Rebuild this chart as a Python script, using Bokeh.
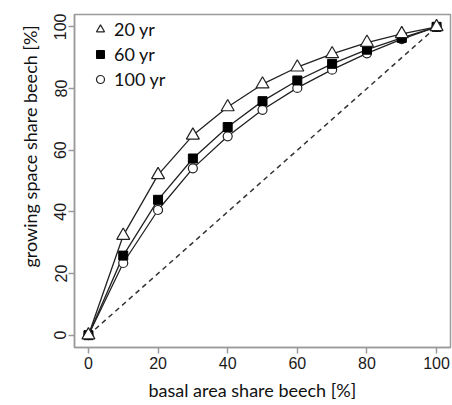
from bokeh.plotting import figure
from bokeh.models import Legend, LegendItem, Title
from bokeh.embed import file_html
from bokeh.resources import INLINE

x_share = [0, 10, 20, 30, 40, 50, 60, 70, 80, 90, 100]
y_20yr = [0, 32.3, 52.0, 64.8, 74.0, 81.4, 86.9, 91.2, 94.9, 97.7, 100]
y_60yr = [0, 25.8, 43.9, 57.3, 67.5, 75.9, 82.6, 88.0, 92.6, 96.4, 100]
y_100yr = [0, 23.4, 40.6, 54.1, 64.5, 73.1, 80.2, 86.1, 91.4, 96.0, 100]
diag = [0, 100]
ticks = [0, 20, 40, 60, 80, 100]
labels = ["20 yr", "60 yr", "100 yr"]
x_title = "basal area share beech [%]"
y_title = "growing space share beech [%]"

p = figure(width=452, height=405, output_backend="svg", toolbar_location=None,
           x_range=(-4, 104), y_range=(-4, 104),
           min_border_left=74, min_border_right=2, min_border_top=14, min_border_bottom=57)
p.grid.visible = False
p.background_fill_color = "white"
p.border_fill_color = "white"
p.outline_line_color = "#9a9a9a"
p.outline_line_width = 1.5

for ax in (p.xaxis[0], p.yaxis[0]):
    ax.ticker = ticks
    ax.axis_line_color = "#9a9a9a"
    ax.axis_line_width = 1.5
    ax.major_tick_line_color = "#9a9a9a"
    ax.major_tick_line_width = 1.5
    ax.major_tick_out = 6
    ax.major_tick_in = 0
    ax.minor_tick_line_color = None
    ax.major_label_text_font = "Liberation Sans"
    ax.major_label_text_font_size = "16px"
    ax.major_label_text_color = "#1a1a1a"

p.yaxis.major_label_orientation = "vertical"
p.xaxis.major_label_standoff = 3
p.yaxis.major_label_standoff = 2

p.add_layout(Title(text=x_title, align="left", offset=74, standoff=10,
                   text_font="Lato", text_font_size="18px", text_font_style="normal",
                   text_color="#111111"), "below")
p.add_layout(Title(text=y_title, align="left", offset=80, standoff=22,
                   text_font="Lato", text_font_size="18px", text_font_style="normal",
                   text_color="#111111"), "left")

line_col = "#222222"
p.line(diag, diag, line_color="#333333", line_width=1.5, line_dash="5 4")

l1 = p.line(x_share, y_20yr, line_color=line_col, line_width=1.3)
l2 = p.line(x_share, y_60yr, line_color=line_col, line_width=1.3)
l3 = p.line(x_share, y_100yr, line_color=line_col, line_width=1.3)
m3 = p.scatter(x_share, y_100yr, marker="circle", size=9, fill_color="white",
               line_color=line_col, line_width=1.2)
m2 = p.scatter(x_share, y_60yr, marker="square", size=9, fill_color="black",
               line_color="black", line_width=1)
m1 = p.scatter(x_share, y_20yr, marker="triangle", size=13, fill_color="white",
               line_color=line_col, line_width=1.2)

legend = Legend(items=[LegendItem(label=labels[0], renderers=[m1]),
                       LegendItem(label=labels[1], renderers=[m2]),
                       LegendItem(label=labels[2], renderers=[m3])],
                location=(16, 257), margin=0, padding=0, spacing=3,
                glyph_width=20, glyph_height=20, label_standoff=4,
                border_line_color=None, background_fill_alpha=0,
                label_text_font="Lato", label_text_font_size="18px",
                label_text_color="#111111")
p.add_layout(legend)

open("out.html", "w").write(file_html(p, INLINE))
